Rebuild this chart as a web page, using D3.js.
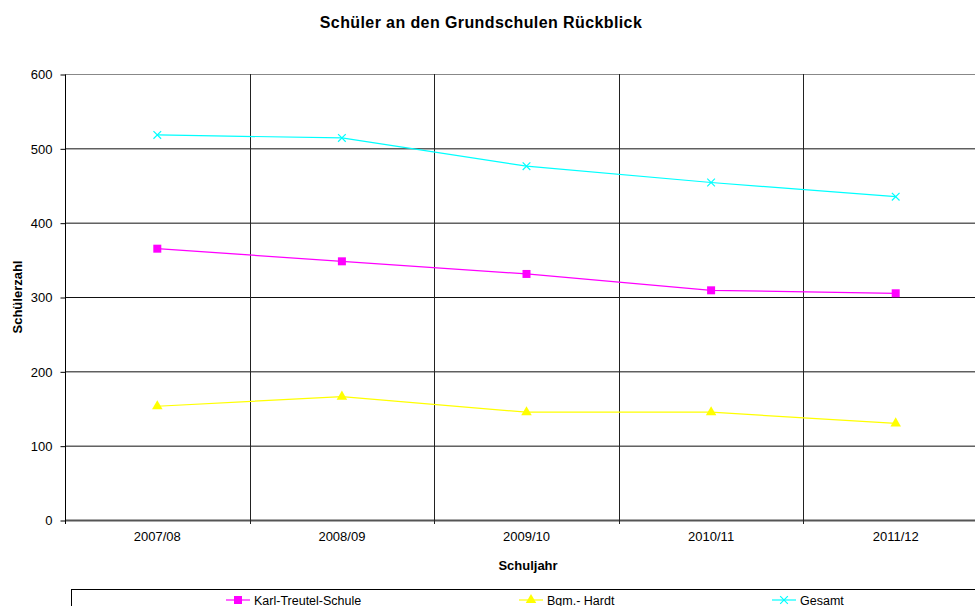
<!DOCTYPE html>
<html>
<head>
<meta charset="utf-8">
<script src="https://cdn.jsdelivr.net/npm/d3@7"></script>
<style>
  html, body { margin: 0; padding: 0; background: #fff; }
  svg { display: block; font-family: "Liberation Sans", Arial, sans-serif; }
</style>
</head>
<body>
<svg id="chart" width="975" height="606"></svg>
<script>
// School years and pupil counts per primary school
const schoolYears = ["2007/08", "2008/09", "2009/10", "2010/11", "2011/12"];
const karlTreutel = [365, 348, 331, 309, 305];
const bgmHardt = [153, 166, 145, 145, 130];
const gesamt = [518, 514, 476, 454, 435];
const yTicks = [0, 100, 200, 300, 400, 500, 600];

const seriesList = [
  { name: "Karl-Treutel-Schule", values: karlTreutel, color: "#ff00ff", marker: "square" },
  { name: "Bgm.- Hardt", values: bgmHardt, color: "#ffff00", marker: "triangle" },
  { name: "Gesamt", values: gesamt, color: "#00ffff", marker: "cross" }
];

const svg = d3.select("#chart");
const plotLeft = 65, plotTop = 74, plotBottom = 520, bandW = 184.6;
const plotRight = plotLeft + bandW * schoolYears.length;

const x = d3.scaleBand().domain(schoolYears).range([plotLeft, plotRight]);
const y = d3.scaleLinear().domain([0, 600]).range([plotBottom, plotTop]);

// Horizontal grid lines
svg.append("g").selectAll("line").data(yTicks).join("line")
  .attr("x1", plotLeft).attr("x2", plotRight)
  .attr("y1", d => y(d) + 0.5).attr("y2", d => y(d) + 0.5)
  .attr("stroke", d => d === 600 ? "#888" : (d === 0 ? "#555" : "#111"))
  .attr("stroke-width", d => d === 0 ? 2 : 1);

// Vertical separators between school years
svg.append("g").selectAll("line").data(schoolYears.slice(1)).join("line")
  .attr("x1", d => Math.round(x(d)) + 0.5).attr("x2", d => Math.round(x(d)) + 0.5)
  .attr("y1", plotTop).attr("y2", plotBottom + 4)
  .attr("stroke", "#222").attr("stroke-width", 1);

// Y axis
const yAxis = d3.axisLeft(y).tickValues(yTicks).tickSize(5).tickPadding(8);
const gy = svg.append("g").attr("transform", `translate(${plotLeft + 0.5},0.5)`).call(yAxis);
gy.select(".domain").attr("stroke", "#000").attr("d", `M0,${plotTop}V${plotBottom}`);
gy.selectAll(".tick line").attr("stroke", "#000");
gy.selectAll("text").attr("font-size", 13).attr("fill", "#000")
  .attr("font-family", "Liberation Sans, Arial, sans-serif");

// X axis
const xAxis = d3.axisBottom(x).tickSize(0).tickPadding(12);
const gx = svg.append("g").attr("transform", `translate(0,${plotBottom})`).call(xAxis);
gx.select(".domain").remove();
gx.selectAll("text").attr("font-size", 13).attr("fill", "#000")
  .attr("font-family", "Liberation Sans, Arial, sans-serif");
svg.append("line").attr("x1", plotLeft + 0.5).attr("x2", plotLeft + 0.5)
  .attr("y1", plotBottom).attr("y2", plotBottom + 4).attr("stroke", "#000");

// Lines and markers
const line = d3.line().x((d, i) => x(schoolYears[i]) + x.bandwidth() / 2).y(d => y(d));
const markerPath = {
  square: d3.symbol(d3.symbolSquare, 64),
  triangle: d3.symbol(d3.symbolTriangle, 48),
  cross: d3.symbol(d3.symbolX, 40)
};

seriesList.forEach(s => {
  svg.append("path").datum(s.values)
    .attr("d", line).attr("fill", "none")
    .attr("stroke", s.color).attr("stroke-width", 1.2);
  svg.append("g").selectAll("path").data(s.values).join("path")
    .attr("transform", (d, i) => `translate(${x(schoolYears[i]) + x.bandwidth() / 2},${y(d)})`)
    .attr("d", markerPath[s.marker]())
    .attr("fill", s.marker === "cross" ? "none" : s.color)
    .attr("stroke", s.color)
    .attr("stroke-width", s.marker === "cross" ? 1.2 : 0);
});

// Titles
svg.append("text").attr("x", 481).attr("y", 28).attr("text-anchor", "middle")
  .attr("font-size", 16).attr("font-weight", "bold").attr("letter-spacing", 0.4)
  .text("Schüler an den Grundschulen Rückblick");
svg.append("text").attr("x", 528).attr("y", 570).attr("text-anchor", "middle")
  .attr("font-size", 13).attr("font-weight", "bold").text("Schuljahr");
svg.append("text").attr("transform", "translate(22,297) rotate(-90)").attr("text-anchor", "middle")
  .attr("font-size", 13).attr("font-weight", "bold").text("Schülerzahl");

// Legend
const legend = svg.append("g");
legend.append("rect").attr("x", 71.5).attr("y", 589.5).attr("width", 960).attr("height", 40)
  .attr("fill", "#fff").attr("stroke", "#000").attr("stroke-width", 1);
const legendX = [226, 519, 772];
seriesList.forEach((s, i) => {
  const g = legend.append("g").attr("transform", `translate(${legendX[i]},600)`);
  g.append("line").attr("x1", 0).attr("x2", 24).attr("y1", 0).attr("y2", 0)
    .attr("stroke", s.color).attr("stroke-width", 1.2);
  g.append("path").attr("transform", "translate(12,0)")
    .attr("d", markerPath[s.marker]())
    .attr("fill", s.marker === "cross" ? "none" : s.color)
    .attr("stroke", s.color)
    .attr("stroke-width", s.marker === "cross" ? 1.2 : 0);
  g.append("text").attr("x", 28).attr("y", 4.5).attr("font-size", 12.5).text(s.name);
});
</script>
</body>
</html>
